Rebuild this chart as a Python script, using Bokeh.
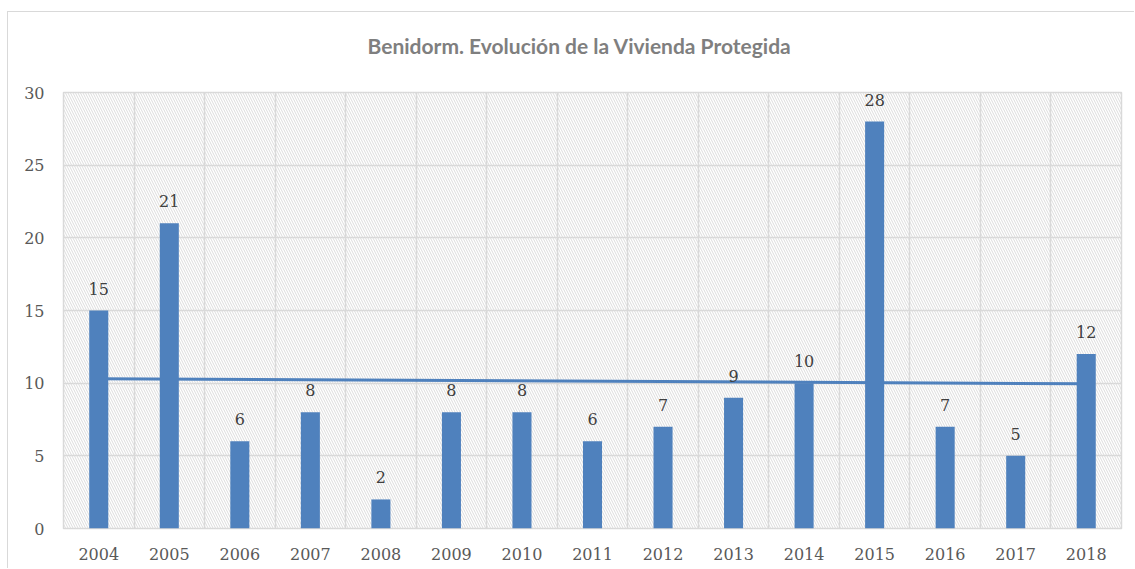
import numpy as np
from bokeh.plotting import figure
from bokeh.models import Range1d, FixedTicker, BoxAnnotation, Title
from bokeh.core.properties import value
from bokeh.embed import file_html
from bokeh.resources import INLINE

years = [2004, 2005, 2006, 2007, 2008, 2009, 2010, 2011, 2012, 2013, 2014, 2015, 2016, 2017, 2018]
values = [15, 21, 6, 8, 2, 8, 8, 6, 7, 9, 10, 28, 7, 5, 12]
y_ticks = [0, 5, 10, 15, 20, 25, 30]
title_text = "Benidorm. Evolución de la Vivienda Protegida"

BLUE = "#4F81BD"
GRID = "#d9d9d9"
SERIF = "DejaVu Serif"

p = figure(width=1127, height=557, output_backend="svg", toolbar_location=None,
           x_range=Range1d(years[0] - 0.5, years[-1] + 0.5), y_range=Range1d(0, 30),
           min_border_left=55, min_border_right=14, min_border_top=80, min_border_bottom=41,
           styles={"margin-left": "7px", "margin-top": "11px",
                   "border-left": "1px solid #d9d9d9", "border-top": "1px solid #d9d9d9"})
p.title = None

# spacer between the title and the plot area, then the title itself
p.add_layout(Title(text=" ", text_font_size="1px", standoff=27), "above")
p.add_layout(Title(text=title_text, align="left", offset=304, standoff=10,
                   text_font="Lato", text_font_style="bold", text_font_size="21px",
                   text_color="#7f7f7f"), "above")

# hatched plot area background
p.add_layout(BoxAnnotation(left=years[0] - 0.5, right=years[-1] + 0.5, bottom=0, top=30,
                           fill_alpha=0, line_alpha=0, hatch_pattern="\\", hatch_color="#dcdcdc",
                           hatch_scale=5, hatch_weight=1, level="image"))

p.outline_line_color = GRID
p.outline_line_width = 1.5

p.xgrid.ticker = FixedTicker(ticks=[y + 0.5 for y in years[:-1]])
p.xgrid.grid_line_color = GRID
p.xgrid.grid_line_width = 1.5
p.ygrid.ticker = FixedTicker(ticks=y_ticks)
p.ygrid.grid_line_color = GRID
p.ygrid.grid_line_width = 1.5

# trend line (linear fit of the series, as in the original)
idx = np.arange(len(years))
slope, intercept = np.polyfit(idx, values, 1)
trend = [intercept + slope * idx[0], intercept + slope * idx[-1]]
p.line([years[0], years[-1]], trend, line_color=BLUE, line_width=3)

p.vbar(x=years, top=values, width=0.27, fill_color=BLUE, line_color=None)

p.text(x=years, y=values, text=[str(v) for v in values], text_align="center",
       text_baseline="alphabetic", y_offset=-22, text_font=value(SERIF),
       text_font_size="16px", text_color="#404040")

for ax in (p.xaxis[0], p.yaxis[0]):
    ax.axis_line_color = None
    ax.major_tick_line_color = None
    ax.minor_tick_line_color = None
    ax.major_label_text_font = SERIF
    ax.major_label_text_font_size = "16px"
    ax.major_label_text_color = "#595959"

p.xaxis.ticker = FixedTicker(ticks=years)
p.xaxis.major_label_standoff = 13
p.yaxis.ticker = FixedTicker(ticks=y_ticks)
p.yaxis.major_label_standoff = 13

open("out.html", "w").write(file_html(p, INLINE))
